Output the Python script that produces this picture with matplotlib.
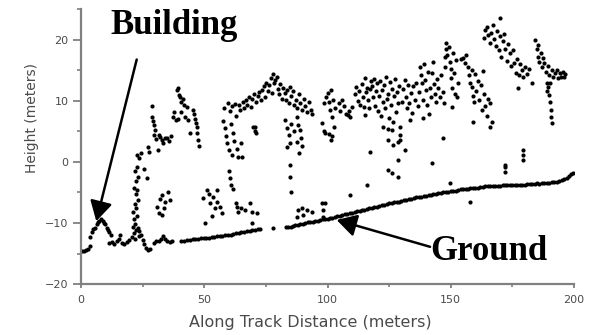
import matplotlib
matplotlib.use("Agg")
import matplotlib.pyplot as plt
import numpy as np

# Along-track profile: ground returns (x in m, height in m)
ground_x = [0.4, 1.3, 2.2, 3.0, 3.6,
            11.5, 12.5, 13.5, 14.5, 15.5, 16.5, 17.5, 18.5, 19.5,
            29.5, 30.5, 31.5, 32.5, 33.3, 34.0, 35.0, 36.0, 37.0,
            40.6, 41.8, 43.0, 44.2, 45.3, 46.4, 47.5, 48.6, 49.7, 50.8, 51.9, 53.0,
            54.1, 55.2, 56.3, 57.4, 58.5, 59.6, 60.7, 61.8, 62.9, 64.0, 65.1, 66.2,
            67.3, 68.4, 69.5, 70.6, 71.7, 72.8, 77.9, 83.0, 84.0, 85.0, 86.0, 87.0,
            88.0, 89.0, 90.0, 91.0, 92.0, 93.0, 94.0, 95.0, 96.0, 97.0, 98.0, 99.0,
            100.0, 101.0, 102.0, 103.0, 104.0, 105.0, 106.0, 107.0, 108.0, 109.0,
            110.0, 111.0, 112.0, 113.0, 114.0, 115.0, 116.0, 117.0, 118.0, 119.0,
            120.0, 121.0, 122.0, 123.0, 124.0, 125.0, 126.0, 127.0, 128.0, 129.0,
            130.0, 131.0, 132.0, 133.0, 134.0, 135.0, 136.0, 137.0, 138.0, 139.0,
            140.0, 141.0, 142.0, 143.0, 144.0, 145.0, 146.0, 147.0, 148.0, 149.0,
            150.0, 151.0, 152.0, 153.0, 154.0, 155.0, 156.0, 157.0, 158.0, 159.0,
            160.0, 161.0, 162.0, 163.0, 164.0, 165.0, 166.0, 167.0, 168.0, 169.0,
            170.0, 171.0, 172.0, 173.0, 174.0, 175.0, 176.0, 177.0, 178.0, 179.0,
            180.0, 181.0, 182.0, 183.0, 184.0, 185.0, 186.0, 187.0, 188.0, 189.0,
            190.0, 191.0, 192.0, 193.0, 194.0, 195.0, 196.0, 197.0, 198.0, 198.8, 199.5]
ground_y = [-14.6, -14.6, -14.5, -14.3, -13.8,
            -13.3, -13.1, -13.4, -13.0, -12.6, -13.2, -13.5, -13.1, -12.8,
            -13.3, -13.0, -12.9, -12.6, -12.2, -12.7, -13.0, -13.1, -13.0,
            -12.9, -12.9, -12.8, -12.8, -12.7, -12.7, -12.6, -12.5, -12.5, -12.4, -12.4, -12.3,
            -12.3, -12.2, -12.2, -12.1, -12.0, -12.0, -11.9, -11.8, -11.7, -11.6, -11.5, -11.4,
            -11.3, -11.3, -11.2, -11.1, -11.0, -11.0, -10.8, -10.7, -10.6, -10.6, -10.5, -10.4,
            -10.3, -10.2, -10.1, -10.0, -9.9, -9.9, -9.8, -9.7, -9.6, -9.5, -9.4, -9.4,
            -9.3, -9.2, -9.1, -9.0, -8.9, -8.8, -8.7, -8.6, -8.5, -8.4,
            -8.3, -8.2, -8.1, -8.0, -7.9, -7.8, -7.7, -7.6, -7.5, -7.4,
            -7.3, -7.2, -7.1, -7.0, -6.9, -6.8, -6.7, -6.6, -6.6, -6.5,
            -6.4, -6.3, -6.2, -6.1, -6.0, -5.9, -5.8, -5.7, -5.7, -5.6,
            -5.5, -5.4, -5.4, -5.3, -5.2, -5.1, -5.1, -5.0, -4.9, -4.9,
            -4.8, -4.7, -4.7, -4.6, -4.5, -4.5, -4.4, -4.4, -4.3, -4.3,
            -4.2, -4.2, -4.1, -4.1, -4.0, -4.0, -4.0, -3.9, -3.9, -3.9,
            -3.9, -3.8, -3.8, -3.8, -3.8, -3.8, -3.7, -3.8, -3.7, -3.7,
            -3.7, -3.6, -3.6, -3.6, -3.6, -3.5, -3.6, -3.5, -3.4, -3.4,
            -3.4, -3.3, -3.3, -3.2, -3.1, -3.0, -2.8, -2.6, -2.3, -2.0, -1.8]

# Roof returns of the small building and the low bump next to it
building = [(3.5, -12.3), (4.5, -11.5), (5.0, -11.0), (5.5, -10.8), (6.5, -10.1),
            (7.0, -9.9), (7.5, -9.6), (8.3, -9.4), (9.0, -9.7), (9.5, -10.0),
            (9.8, -10.2), (10.5, -10.8), (11.0, -11.2), (11.3, -11.4), (12.0, -11.9)]
bump = [(16.0, -11.9), (20.5, -12.3), (21.5, -11.7), (22.3, -11.1), (23.0, -10.8),
        (23.6, -11.3), (24.3, -12.0), (25.0, -12.8), (25.7, -13.5), (26.5, -14.1),
        (27.3, -14.4), (28.0, -14.2), (22.0, -12.6), (23.5, -12.2)]

# Vegetation returns, grouped by stand along the track
stand_a = [(21.0, -10.6), (22.0, -10.2), (21.5, -9.4), (22.6, -8.8), (21.2, -8.2),
           (22.4, -7.6), (21.8, -6.9), (23.0, -6.2), (22.2, -5.3), (22.8, -4.6),
           (21.6, -4.2), (22.4, -3.1), (23.2, -2.5), (21.9, -1.4), (22.6, -0.8),
           (23.5, 0.6), (22.8, 1.1), (24.2, 1.4), (26.8, -2.6), (25.6, -1.2),
           (30.8, -7.4), (32.0, -6.0), (32.9, -5.4), (34.0, -6.6), (33.5, -7.6),
           (32.9, -8.7), (31.6, -8.4), (35.2, -5.0), (36.3, -6.2)]
stand_b = [(27.3, 2.5), (27.6, 1.6), (28.8, 9.2), (29.0, 7.4), (29.3, 6.8), (29.6, 6.1),
           (30.0, 5.2), (29.8, 4.5), (30.4, 3.8), (31.2, 2.0), (31.6, 4.4), (32.0, 4.1),
           (32.8, 3.6), (33.3, 3.1), (34.2, 4.0), (34.9, 3.9), (35.8, 3.4), (36.5, 4.2),
           (37.4, 7.4), (37.9, 8.2), (38.6, 6.9), (39.0, 11.8), (39.4, 12.2), (39.8, 11.0),
           (40.2, 10.7), (40.5, 9.9), (41.2, 10.4), (41.8, 9.4), (42.2, 7.4), (42.8, 9.0),
           (43.4, 6.9), (44.2, 4.8), (45.4, 8.5), (45.8, 7.8), (46.2, 7.0), (46.6, 6.4),
           (47.0, 5.7), (47.2, 4.8), (47.5, 3.6), (47.9, 2.6), (40.6, 8.2), (39.2, 7.0)]
stand_c = [(49.5, -5.9), (50.3, -10.0), (51.0, -4.6), (51.8, -5.2), (52.5, -6.8),
           (53.6, -5.7), (54.2, -7.6), (55.0, -4.6), (55.2, -6.6), (56.4, -7.4),
           (57.0, -8.3), (53.0, -8.9), (60.0, -1.4), (60.4, -2.6), (60.8, -3.8),
           (61.5, -4.4), (62.9, -6.7), (63.3, -7.4), (63.8, -8.2), (65.0, -7.6),
           (66.5, -7.8), (68.6, -6.7), (69.4, -8.2), (71.4, -8.4), (69.4, -10.0)]
stand_d = [(57.5, 6.8), (58.2, 8.8), (58.4, 5.5), (58.8, 4.2), (59.4, 3.1), (59.6, 9.6),
           (60.2, 2.0), (60.4, 8.4), (60.8, 6.2), (61.2, 1.2), (61.3, 9.2), (61.7, 4.8),
           (62.0, 3.4), (62.5, 9.5), (62.8, 7.6), (63.2, 2.2), (63.6, 0.9), (64.0, 9.3),
           (64.5, 8.5), (64.8, 3.1), (65.2, 0.8), (65.6, 9.8), (66.2, 8.9), (66.8, 10.2),
           (67.5, 9.4), (68.2, 10.6), (68.8, 9.0), (69.5, 10.3), (69.8, 5.7), (70.3, 11.2),
           (70.6, 5.0), (71.0, 9.8), (71.8, 10.9), (72.4, 11.5), (73.0, 10.2), (73.6, 11.8),
           (74.2, 12.4), (74.6, 10.6), (75.2, 13.0), (75.8, 11.6), (76.4, 12.6), (76.9, 13.8),
           (77.3, 11.3), (77.8, 14.4), (78.3, 12.9), (78.8, 13.5), (79.5, 13.9), (79.9, 12.0),
           (80.4, 11.2), (80.9, 12.8), (81.5, 10.4), (82.0, 12.2), (82.7, 11.3), (83.2, 10.1),
           (83.6, 11.8), (84.2, 9.6), (84.8, 12.3), (85.3, 10.8), (86.0, 11.6), (86.6, 9.3),
           (87.2, 10.2), (87.8, 8.8), (88.4, 11.2), (89.0, 9.6), (89.6, 8.5), (90.3, 10.4),
           (91.0, 9.1), (91.8, 8.2), (92.5, 9.8), (93.2, 8.6), (93.7, 7.9),
           (82.7, 6.9), (83.5, 5.6), (84.2, 4.4), (84.8, 3.1), (83.6, 2.5), (85.3, 6.2),
           (86.5, 5.0), (87.6, 7.4), (88.2, 6.1), (88.8, 5.2), (89.3, 3.9), (89.8, 2.6),
           (88.6, 1.5), (87.8, 3.3), (70.6, 5.7), (70.9, 4.8),
           (84.8, -0.5), (84.8, -2.5), (85.0, -4.9)]
stand_e = [(97.8, 6.4), (98.4, 5.1), (99.0, 4.8), (98.6, 9.6), (99.4, 10.6), (100.2, 11.3),
           (100.6, 9.8), (101.0, 8.6), (101.4, 11.8), (101.8, 7.4), (102.2, 10.2), (102.6, 5.7),
           (100.8, 4.6), (101.3, 3.6), (102.0, 4.2), (103.0, 8.8),
           (87.5, -9.0), (88.0, -7.9), (89.7, -7.5), (90.1, -8.7), (91.6, -7.9), (93.7, -8.2),
           (97.6, -6.7), (98.8, -6.7), (98.2, -7.9), (98.2, -9.0),
           (109.0, -5.4), (116.0, -3.8), (124.5, -1.3), (126.0, -1.8), (128.5, -2.5),
           (128.6, 0.3), (117.2, 1.6), (142.4, -0.2), (146.9, 3.9), (149.7, -3.4),
           (157.8, -6.6), (172.0, -0.5), (172.0, -1.6), (179.3, 2.0), (179.3, 0.3), (179.5, 1.2)]
stand_f = [(104.5, 9.6), (105.2, 8.4), (106.0, 10.2), (106.8, 9.1), (107.5, 7.8), (108.3, 7.7),
           (108.6, 8.4), (109.2, 7.4), (110.0, 9.0),
           (111.0, 11.2), (111.6, 12.3), (112.2, 10.0), (112.8, 11.6), (113.2, 9.4), (113.8, 12.8),
           (114.2, 10.6), (114.8, 9.0), (115.2, 13.8), (115.2, 7.7), (115.6, 11.4), (116.0, 12.2),
           (116.4, 10.1), (116.8, 8.8), (117.4, 11.9), (117.8, 13.2),
           (118.2, 12.4), (118.6, 10.6), (119.0, 13.6), (119.4, 9.2), (119.8, 11.6), (120.2, 12.9),
           (120.6, 8.4), (121.0, 10.9), (121.4, 13.2), (121.8, 7.6), (122.2, 11.8), (122.6, 9.8),
           (123.0, 12.6), (123.4, 8.9), (123.8, 14.0), (124.2, 10.4), (124.6, 11.2), (125.0, 7.2),
           (125.4, 13.1), (125.8, 9.4), (126.2, 12.0), (126.6, 6.6), (127.0, 10.8), (127.4, 13.6),
           (127.8, 8.2), (128.2, 11.4), (128.6, 9.6), (129.0, 12.4), (122.5, 5.7), (124.5, 5.4),
           (126.0, 5.2), (129.4, 5.7), (129.4, 4.4), (129.4, 3.6), (124.5, 3.6), (126.5, 2.8),
           (128.4, 3.2), (131.4, 2.0)]
stand_g = [(130.2, 9.8), (130.8, 11.9), (131.4, 13.4), (131.8, 10.6), (132.2, 8.8), (132.6, 12.6),
           (133.0, 9.6), (133.5, 6.9), (133.8, 11.3), (134.3, 8.0), (134.8, 12.4), (135.4, 10.2),
           (136.0, 13.0), (136.6, 9.1), (137.2, 11.5), (137.5, 15.6), (137.8, 14.2), (138.2, 12.9),
           (138.7, 7.2), (138.9, 10.1), (139.3, 16.0), (139.6, 13.4), (140.0, 11.8), (140.4, 9.4),
           (140.8, 14.8), (141.2, 7.8), (141.6, 12.2), (142.0, 10.6), (142.4, 14.6), (142.8, 16.4),
           (143.2, 12.8), (143.6, 11.2), (144.0, 9.9), (144.4, 13.6), (145.0, 12.2), (145.6, 10.7),
           (146.2, 14.2), (146.8, 11.4), (147.2, 9.7), (147.7, 15.6), (147.7, 17.2), (147.9, 18.6),
           (148.2, 19.5)]
stand_h = [(148.6, 17.6), (149.2, 18.8), (149.6, 16.4), (150.0, 15.2), (150.2, 13.8), (150.6, 12.2),
           (150.5, 9.0), (151.0, 17.9), (151.4, 14.6), (151.8, 11.2), (152.2, 16.8), (152.5, 10.7),
           (153.0, 13.0), (154.2, 16.9), (155.0, 17.0), (155.6, 16.2), (156.2, 17.6), (157.0, 15.6),
           (157.4, 14.2), (158.0, 13.0), (158.6, 15.0), (158.6, 12.3), (159.0, 10.8), (159.0, 6.6),
           (159.4, 9.8), (159.8, 14.4), (160.4, 11.6), (161.0, 13.2), (161.6, 10.2), (162.2, 12.6),
           (162.8, 8.6), (163.0, 14.9), (163.4, 11.2), (164.0, 9.2), (164.6, 7.6), (165.2, 10.4),
           (166.0, 9.7), (166.0, 5.7), (166.7, 6.6)]
stand_i = [(163.4, 20.4), (164.0, 21.6), (164.6, 22.1), (165.2, 20.8), (165.8, 19.5), (166.4, 21.2),
           (167.0, 22.4), (167.6, 20.2), (168.2, 19.0), (168.8, 21.4), (169.4, 18.4), (170.0, 20.6),
           (170.0, 23.6), (170.4, 17.2), (171.0, 19.8), (171.6, 21.0), (172.2, 18.6), (172.8, 16.6),
           (173.4, 19.4), (174.0, 17.8), (174.6, 15.8), (175.2, 18.4), (175.8, 16.2), (176.4, 14.6),
           (177.0, 16.9), (177.3, 12.1), (177.6, 14.2), (178.2, 16.0), (178.8, 15.0), (179.4, 13.9),
           (180.0, 15.6), (180.8, 14.4), (181.6, 15.2), (183.0, 13.0), (172.0, -0.8)]
stand_j = [(184.2, 20.0), (184.8, 18.6), (185.4, 17.2), (185.2, 19.2), (186.0, 16.4), (186.6, 17.8),
           (187.2, 15.6), (187.4, 17.0), (188.0, 16.2), (188.6, 14.8), (189.0, 13.0), (189.4, 15.8),
           (189.6, 12.3), (190.0, 14.2), (190.0, 11.0), (190.4, 9.8), (190.6, 8.6), (190.8, 7.4),
           (191.0, 6.4), (191.0, 15.0), (191.6, 14.0), (192.2, 14.6), (193.0, 15.0), (193.6, 13.8),
           (194.2, 14.6), (194.8, 14.0), (195.4, 14.8), (196.0, 13.9), (196.4, 14.4), (189.0, 11.6),
           (190.2, 12.9)]

stands = [building, bump, stand_a, stand_b, stand_c, stand_d, stand_e,
          stand_f, stand_g, stand_h, stand_i, stand_j]

fig = plt.figure(figsize=(5.92, 3.35), dpi=100)
ax = fig.add_axes([81 / 592, 1 - 284 / 335, 493 / 592, 274.5 / 335])

dot = dict(s=9, c="black", marker="o", linewidths=0)
ax.scatter(ground_x, ground_y, **dot)
for pts in stands:
    arr = np.array(pts)
    ax.scatter(arr[:, 0], arr[:, 1], **dot)

ax.set_xlim(0, 200)
ax.set_ylim(-20, 25)
ax.set_xticks([0, 50, 100, 150, 200])
ax.set_xticks([25, 75, 125, 175], minor=True)
ax.set_yticks([-20, -10, 0, 10, 20])
ax.set_yticks([-15, -5, 5, 15, 25], minor=True)

axis_grey = "#808080"
text_grey = "#4a4a4a"
for side in ("top", "right"):
    ax.spines[side].set_visible(False)
for side in ("left", "bottom"):
    ax.spines[side].set_color(axis_grey)
    ax.spines[side].set_linewidth(1.6)

ax.tick_params(axis="y", which="major", length=6, width=1.3, color=axis_grey,
               pad=3, labelsize=8, labelcolor=text_grey)
ax.tick_params(axis="y", which="minor", length=3, width=1.2, color=axis_grey)
ax.tick_params(axis="x", which="major", length=3, width=1.3, color=axis_grey,
               pad=5, labelsize=8, labelcolor=text_grey)
ax.tick_params(axis="x", which="minor", length=2, width=1.2, color=axis_grey)

ax.set_xlabel("Along Track Distance (meters)", fontsize=11.5, color=text_grey)
ax.set_ylabel("Height (meters)", fontsize=10, color=text_grey)
ax.xaxis.set_label_coords(0.465, -0.113)
ax.yaxis.set_label_coords(-0.085, 0.603)

arrow = dict(arrowstyle="-|>,head_length=0.6,head_width=0.34", lw=1.8,
             color="black", shrinkA=0, shrinkB=0, mutation_scale=20)
ax.annotate("", xy=(6.2, -9.7), xytext=(22.6, 16.8), arrowprops=arrow)
ax.annotate("", xy=(103.7, -9.5), xytext=(141.6, -13.9), arrowprops=arrow)

label_font = dict(family="Liberation Serif", fontweight="bold", fontsize=25,
                  color="black", va="baseline", ha="left")
ax.text(11.8, 21.0, "Building", **label_font)
ax.text(141.6, -16.07, "Ground", **label_font)

fig.savefig("out.png", dpi=100)
